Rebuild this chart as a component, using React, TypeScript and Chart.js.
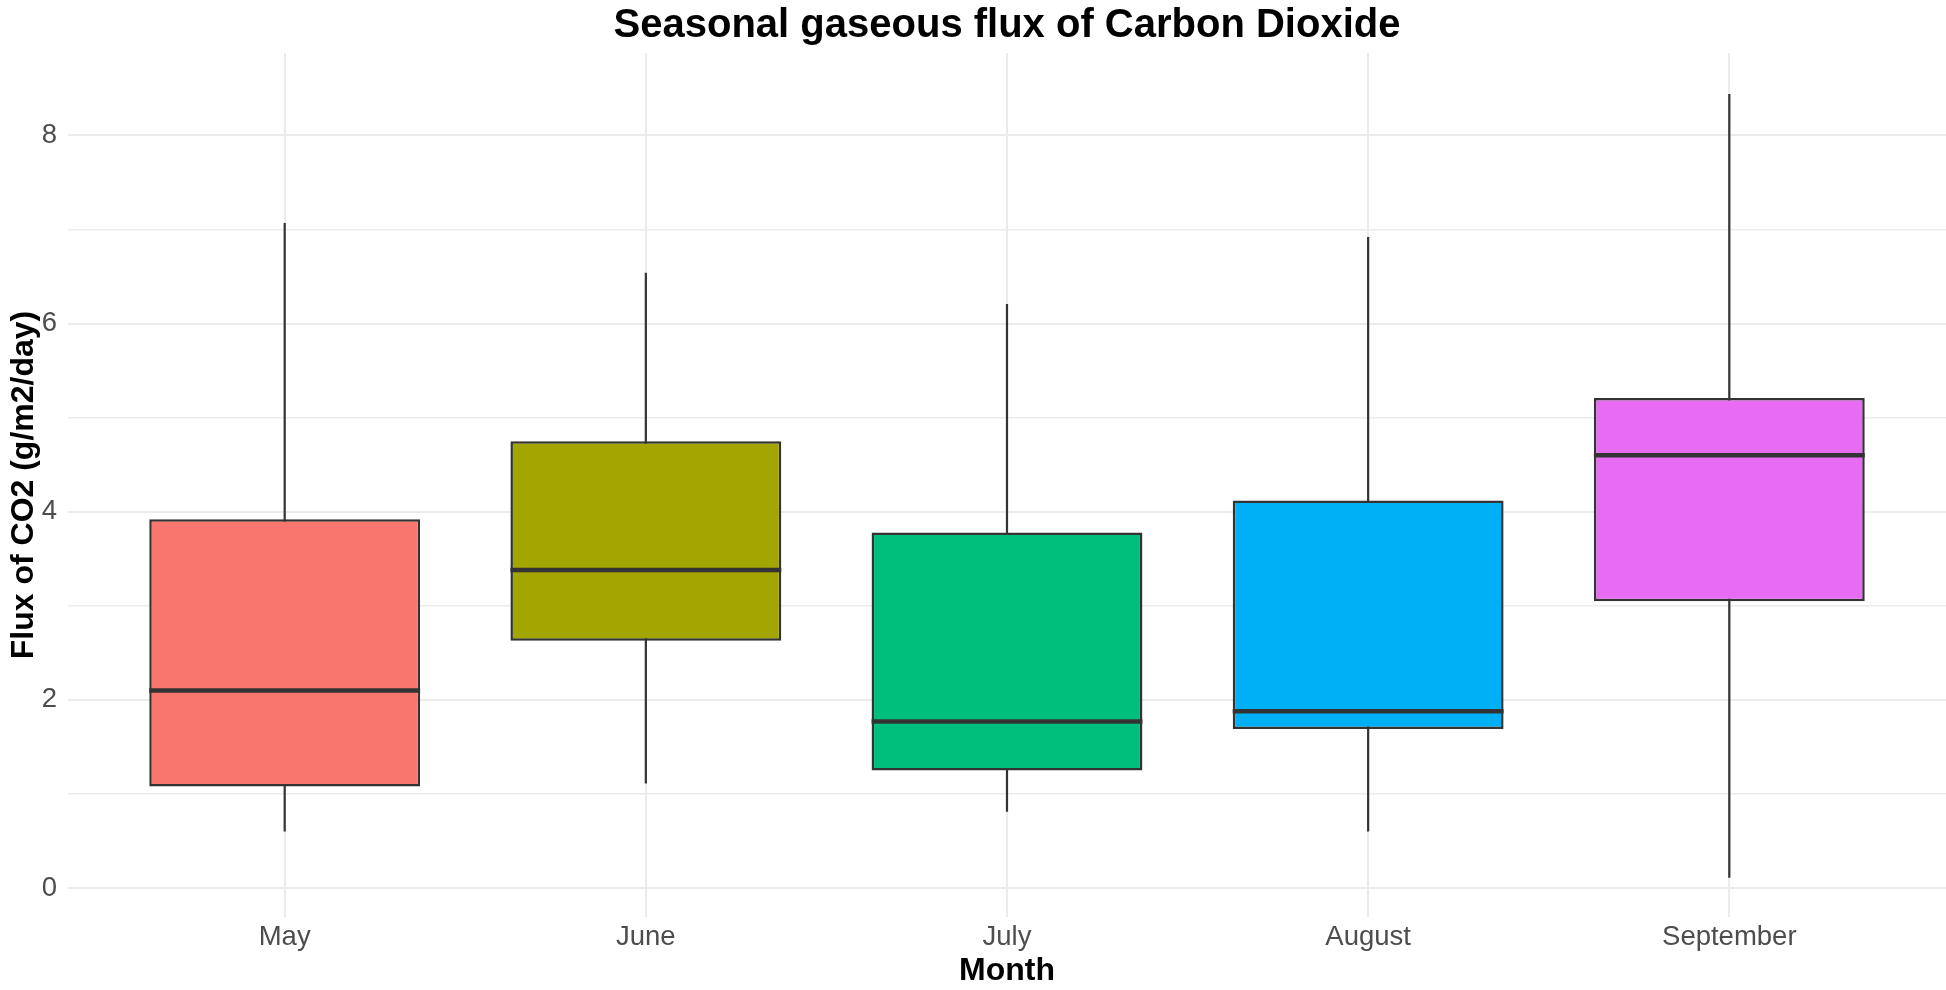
import React, { useEffect, useRef } from "react";
import { Chart, registerables } from "chart.js";

Chart.register(...registerables);

const months = ["May", "June", "July", "August", "September"];
const whiskerLow = [0.6, 1.11, 0.81, 0.6, 0.11];
const q1 = [1.08, 2.63, 1.25, 1.69, 3.05];
const median = [2.1, 3.38, 1.77, 1.88, 4.6];
const q3 = [3.92, 4.75, 3.78, 4.12, 5.21];
const whiskerHigh = [7.07, 6.54, 6.21, 6.92, 8.44];
const fillColors = ["#F8766D", "#A3A500", "#00BF7D", "#00B0F6", "#E76BF3"];
const yTickValues = [0, 1, 2, 3, 4, 5, 6, 7, 8];
const titleText = "Seasonal gaseous flux of Carbon Dioxide";
const xTitle = "Month";
const yTitle = "Flux of CO2 (g/m2/day)";

const FONT = "'Liberation Sans', Arial, Helvetica, sans-serif";
const OUTLINE = "#333333";

const boxPlugin = {
  id: "boxParts",
  beforeDatasetsDraw(chart: any) {
    const { ctx } = chart;
    const xs = chart.scales.x;
    const ys = chart.scales.y;
    ctx.save();
    ctx.strokeStyle = OUTLINE;
    ctx.lineWidth = 2.2;
    months.forEach((_, i) => {
      const px = xs.getPixelForValue(i);
      ctx.beginPath();
      ctx.moveTo(px, ys.getPixelForValue(whiskerHigh[i]));
      ctx.lineTo(px, ys.getPixelForValue(whiskerLow[i]));
      ctx.stroke();
    });
    ctx.restore();
  },
  afterDatasetsDraw(chart: any) {
    const { ctx } = chart;
    const ys = chart.scales.y;
    const meta = chart.getDatasetMeta(0);
    ctx.save();
    ctx.strokeStyle = OUTLINE;
    ctx.lineWidth = 4.5;
    meta.data.forEach((el: any, i: number) => {
      const half = el.width / 2;
      const py = ys.getPixelForValue(median[i]);
      ctx.beginPath();
      ctx.moveTo(el.x - half, py);
      ctx.lineTo(el.x + half, py);
      ctx.stroke();
    });
    ctx.restore();
  },
  afterDraw(chart: any) {
    const { ctx, chartArea } = chart;
    ctx.save();
    ctx.font = `bold 40px ${FONT}`;
    ctx.fillStyle = "#000000";
    ctx.textAlign = "center";
    ctx.textBaseline = "alphabetic";
    ctx.fillText(titleText, (chartArea.left + chartArea.right) / 2, 37);
    ctx.restore();
  },
};

export default function App() {
  const canvasRef = useRef<HTMLCanvasElement | null>(null);

  useEffect(() => {
    if (!canvasRef.current) return;
    const chart = new Chart(canvasRef.current, {
      type: "bar",
      data: {
        datasets: [
          {
            data: months.map((_, i) => ({ x: i, y: [q1[i], q3[i]] })) as any,
            backgroundColor: fillColors,
            borderColor: OUTLINE,
            borderWidth: 2.5,
            borderSkipped: false,
            categoryPercentage: 0.75,
            barPercentage: 1,
          },
        ],
      },
      options: {
        responsive: false,
        animation: false,
        devicePixelRatio: 1,
        layout: { padding: { top: 53, left: 0, right: 0, bottom: 0 } },
        plugins: {
          legend: { display: false },
          tooltip: { enabled: false },
          title: { display: false },
        },
        scales: {
          x: {
            type: "linear",
            min: -0.6,
            max: 4.6,
            offset: false,
            afterBuildTicks: (s: any) => {
              s.ticks = months.map((_, i) => ({ value: i }));
            },
            afterFit: (s: any) => {
              s.height = 73;
            },
            grid: { color: "#EBEBEB", lineWidth: 2, drawTicks: false, offset: false },
            border: { display: false },
            ticks: {
              padding: 4,
              color: "#4D4D4D",
              font: { family: FONT, size: 27.5 },
              autoSkip: false,
              maxRotation: 0,
              callback: (v: any) => months[v] ?? "",
            },
            title: {
              display: true,
              text: xTitle,
              color: "#000000",
              font: { family: FONT, size: 32, weight: "bold" },
              padding: { top: 0, bottom: 0 },
            },
          },
          y: {
            type: "linear",
            min: -0.308,
            max: 8.877,
            afterBuildTicks: (s: any) => {
              s.ticks = yTickValues.map((v) => ({ value: v }));
            },
            afterFit: (s: any) => {
              s.width = 68;
            },
            grid: {
              color: "#EBEBEB",
              lineWidth: (c: any) => (c.tick && c.tick.value % 2 === 0 ? 2 : 1.5),
              drawTicks: false,
            },
            border: { display: false },
            ticks: {
              padding: 11,
              color: "#4D4D4D",
              font: { family: FONT, size: 27.5 },
              callback: (v: any) => (v % 2 === 0 ? String(v) : ""),
            },
            title: {
              display: true,
              text: yTitle,
              color: "#000000",
              font: { family: FONT, size: 32, weight: "bold" },
              padding: { top: 5, bottom: 0 },
            },
          },
        },
      },
      plugins: [boxPlugin],
    } as any);
    return () => chart.destroy();
  }, []);

  return (
    <div style={{ position: "absolute", left: 0, top: 0, width: 1946, height: 990, background: "#ffffff" }}>
      <canvas ref={canvasRef} width={1946} height={990} style={{ display: "block" }} />
    </div>
  );
}
